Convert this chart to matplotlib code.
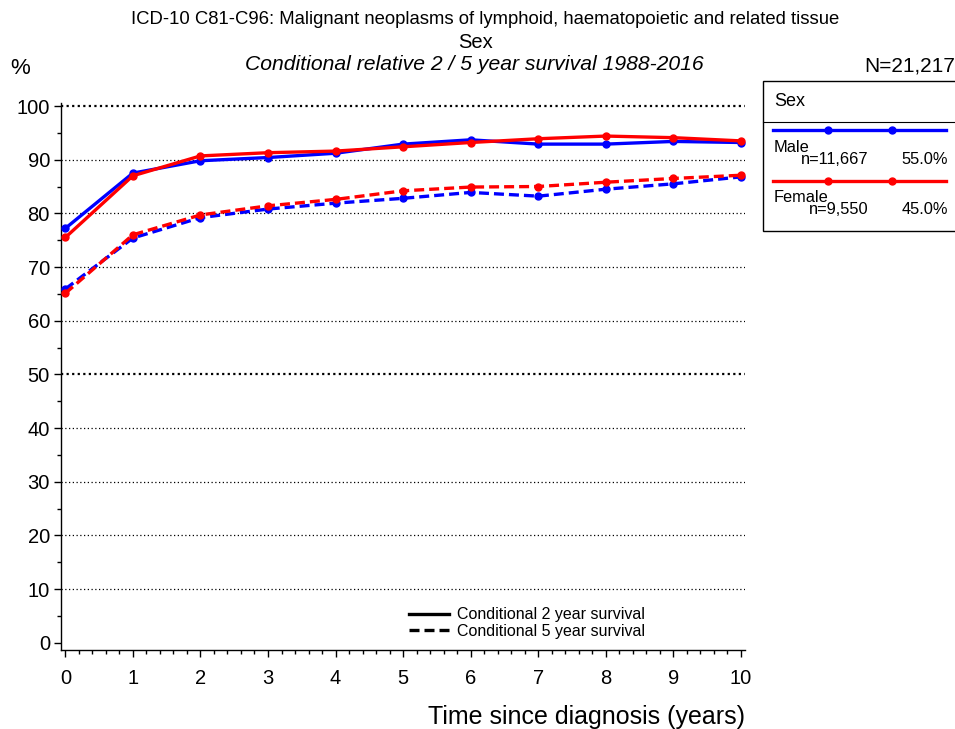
import matplotlib.pyplot as plt
import matplotlib.lines as mlines
import matplotlib.patches as mpatches
import numpy as np

plt.rcParams['font.family'] = ['Liberation Sans', 'DejaVu Sans']

# Data
years = [0, 1, 2, 3, 4, 5, 6, 7, 8, 9, 10]
male_2y = [77.2, 87.5, 89.8, 90.4, 91.2, 92.9, 93.7, 92.9, 92.9, 93.4, 93.2]
female_2y = [75.5, 87.0, 90.7, 91.3, 91.6, 92.4, 93.2, 93.9, 94.4, 94.1, 93.5]
male_5y = [65.9, 75.4, 79.2, 80.8, 81.9, 82.8, 83.9, 83.2, 84.5, 85.5, 86.8]
female_5y = [65.1, 76.0, 79.7, 81.4, 82.6, 84.2, 84.9, 85.0, 85.8, 86.5, 87.1]

groups = ["Male", "Female"]
group_n = ["n=11,667", "n=9,550"]
group_pct = ["55.0%", "45.0%"]
colors = ["#0000ff", "#ff0000"]

W, H = 955, 729
fig = plt.figure(figsize=(W / 100, H / 100), dpi=100)
ax = fig.add_axes([61 / W, (H - 650) / H, (745 - 61) / W, (650 - 103) / H])

# Grid lines
for g in range(10, 101, 10):
    heavy = g in (50, 100)
    ax.axhline(g, color='black', linestyle=(0, (1, 2)) if not heavy else (0, (1, 1.5)),
               linewidth=1.6 if heavy else 0.9, zorder=1)

series = [(male_2y, colors[0], '-'), (female_2y, colors[1], '-'),
          (male_5y, colors[0], '--'), (female_5y, colors[1], '--')]
for vals, c, ls in series:
    ax.plot(years, vals, color=c, linestyle=ls, linewidth=2.4, marker='o',
            markersize=5, zorder=3, dashes=(3, 1.5) if ls == '--' else (None, None))

ax.set_xlim(-0.064, 10.06)
ax.set_ylim(-1.36, 100.56)
ax.spines['top'].set_visible(False)
ax.spines['right'].set_visible(False)
ax.set_xticks(years)
ax.set_xticks(np.arange(0, 10.01, 0.2), minor=True)
ax.set_yticks(np.arange(0, 101, 10))
ax.set_yticks(np.arange(5, 100, 10), minor=True)
ax.tick_params(axis='both', which='major', labelsize=14.5, length=5, width=1)
ax.tick_params(axis='both', which='minor', length=3, width=1)
ax.tick_params(axis='x', pad=9)
ax.tick_params(axis='y', pad=3)
ax.spines['left'].set_linewidth(1)
ax.spines['bottom'].set_linewidth(1)

# Bottom legend for line style
leg_handles = [mlines.Line2D([], [], color='black', linewidth=2.4, linestyle='-'),
               mlines.Line2D([], [], color='black', linewidth=2.4, dashes=(3, 1.5))]
ax.legend(leg_handles, ["Conditional 2 year survival", "Conditional 5 year survival"],
          loc='lower left', bbox_to_anchor=(0.5, 0.009), frameon=False, fontsize=11.5,
          handlelength=2.5, handletextpad=0.5, labelspacing=0.1, borderaxespad=0)

# Titles
fig.text(485 / W, 1 - 20 / H, "ICD-10 C81-C96: Malignant neoplasms of lymphoid, haematopoietic and related tissue",
         ha='center', va='center', fontsize=13.3)
fig.text(476 / W, 1 - 43 / H, "Sex", ha='center', va='center', fontsize=14.5)
fig.text(474 / W, 1 - 65 / H, "Conditional relative 2 / 5 year survival 1988-2016",
         ha='center', va='center', fontsize=15.2, style='italic')
fig.text(10 / W, 1 - 68 / H, "%", ha='left', va='center', fontsize=16)
fig.text(955 / W, 1 - 66 / H, "N=21,217", ha='right', va='center', fontsize=15)
fig.text(745 / W, 1 - 717 / H, "Time since diagnosis (years)", ha='right', va='center', fontsize=18)

# Group legend box
box = mpatches.Rectangle((763 / W, 1 - 231 / H), (960 - 763) / W, (231 - 81) / H,
                         transform=fig.transFigure, facecolor='white', edgecolor='black',
                         linewidth=1)
fig.add_artist(box)
fig.text(774 / W, 1 - 101 / H, "Sex", ha='left', va='center', fontsize=13)
fig.add_artist(mlines.Line2D([763 / W, 1], [1 - 122 / H, 1 - 122 / H],
                             transform=fig.transFigure, color='black', linewidth=0.8))
for i, (name, n, pct, c) in enumerate(zip(groups, group_n, group_pct, colors)):
    y0 = 130 + i * 51
    fig.add_artist(mlines.Line2D([773 / W, 946 / W], [1 - y0 / H, 1 - y0 / H],
                                 transform=fig.transFigure, color=c, linewidth=2.4))
    fig.add_artist(mlines.Line2D([828 / W, 892 / W], [1 - y0 / H, 1 - y0 / H],
                                 transform=fig.transFigure, color=c, linestyle='none',
                                 marker='o', markersize=5))
    fig.text(774 / W, 1 - (y0 + 17) / H, name, ha='left', va='center', fontsize=11.8)
    fig.text(869 / W, 1 - (y0 + 29) / H, n, ha='right', va='center', fontsize=11.8)
    fig.text(948 / W, 1 - (y0 + 29) / H, pct, ha='right', va='center', fontsize=11.8)

fig.savefig("out.png", dpi=100)
